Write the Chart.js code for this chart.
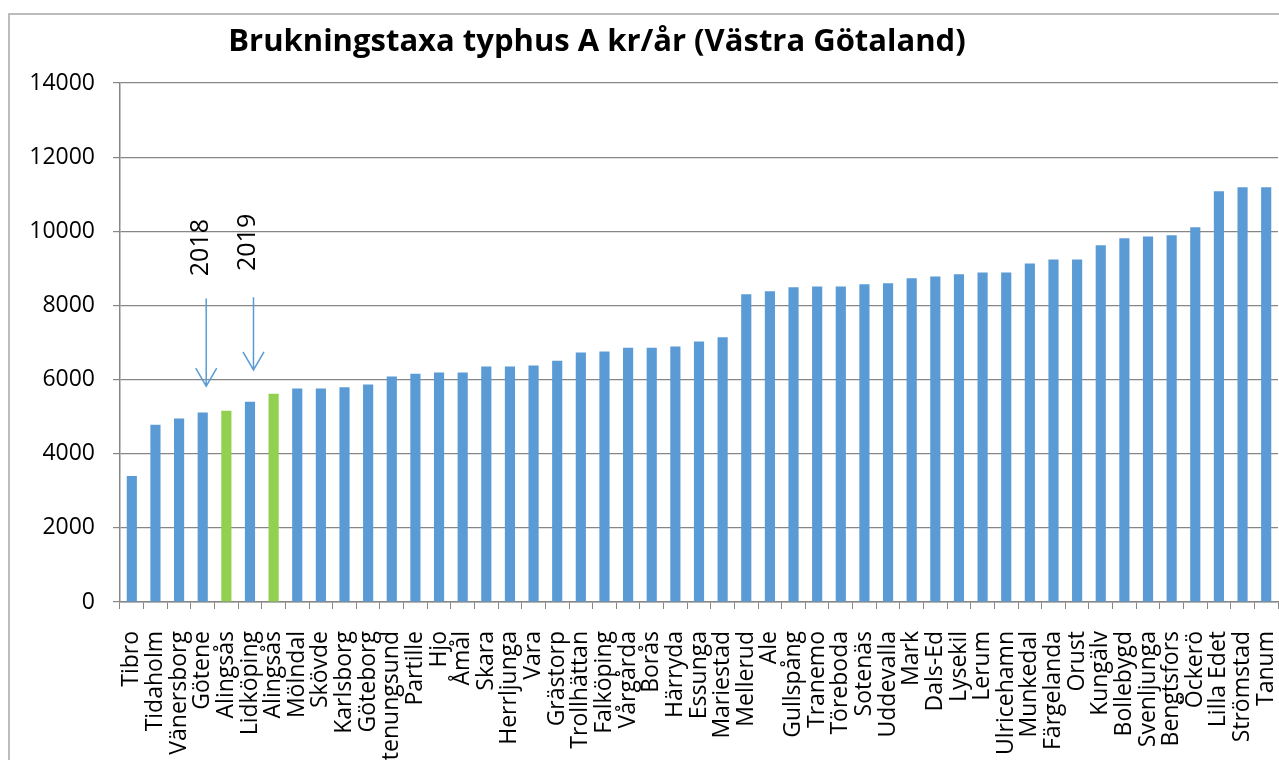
<!DOCTYPE html>
<html>
<head>
<meta charset="utf-8">
<script src="https://cdn.jsdelivr.net/npm/chart.js@4/dist/chart.umd.min.js"></script>
<style>
  html, body { margin: 0; padding: 0; background: #fff; }
  #wrap { width: 1279px; height: 760px; position: relative; }
</style>
</head>
<body>
<div id="wrap"><canvas id="chart"></canvas></div>
<script>
const kommuner = [
  'Tibro', 'Tidaholm', 'Vänersborg', 'Götene', 'Alingsås', 'Lidköping', 'Alingsås',
  'Mölndal', 'Skövde', 'Karlsborg', 'Göteborg', 'Stenungsund', 'Partille', 'Hjo',
  'Åmål', 'Skara', 'Herrljunga', 'Vara', 'Grästorp', 'Trollhättan', 'Falköping',
  'Vårgårda', 'Borås', 'Härryda', 'Essunga', 'Mariestad', 'Mellerud', 'Ale',
  'Gullspång', 'Tranemo', 'Töreboda', 'Sotenäs', 'Uddevalla', 'Mark', 'Dals-Ed',
  'Lysekil', 'Lerum', 'Ulricehamn', 'Munkedal', 'Färgelanda', 'Orust', 'Kungälv',
  'Bollebygd', 'Svenljunga', 'Bengtsfors', 'Öckerö', 'Lilla Edet', 'Strömstad', 'Tanum'
];

const taxa = [
  3400, 4780, 4950, 5110, 5160, 5400, 5620,
  5760, 5760, 5790, 5870, 6080, 6160, 6190,
  6190, 6350, 6350, 6380, 6510, 6730, 6760,
  6860, 6860, 6890, 7030, 7140, 8300, 8380,
  8490, 8510, 8510, 8570, 8600, 8730, 8780,
  8840, 8890, 8890, 9130, 9240, 9240, 9620,
  9810, 9860, 9890, 10110, 11080, 11190, 11190
];

// Alingsås 2018 and 2019 are highlighted
const highlighted = [4, 6];

const yTicks = [0, 2000, 4000, 6000, 8000, 10000, 12000, 14000];

// arrow notes: category index, text centre value, arrow top value, arrow tip value
const noteLabels = ['2018', '2019'];
const noteIndex = [3, 5];
const noteTextValue = [9560, 9700];
const noteArrowTop = [8190, 8220];
const noteArrowTip = [5820, 6260];

const blue = '#5b9bd5';
const green = '#92d050';
const axisGrey = '#868686';

const frame = {
  id: 'frame',
  beforeDraw(chart) {
    const ctx = chart.ctx;
    ctx.save();
    ctx.fillStyle = '#fff';
    ctx.fillRect(0, 0, chart.width, chart.height);
    ctx.strokeStyle = '#a6a6a6';
    ctx.lineWidth = 1.5;
    ctx.strokeRect(9, 14, 1400, 900);
    ctx.restore();
  },
  afterDraw(chart) {
    const ctx = chart.ctx;
    const x = chart.scales.x;
    const y = chart.scales.y;
    ctx.save();
    // title
    ctx.fillStyle = '#000';
    ctx.font = 'bold 31px "Open Sans"';
    ctx.textAlign = 'center';
    ctx.textBaseline = 'middle';
    ctx.fillText('Brukningstaxa typhus A kr/år (Västra Götaland)', 597, 42);

    // year notes with arrows
    ctx.strokeStyle = blue;
    ctx.lineWidth = 1.5;
    noteLabels.forEach((txt, i) => {
      const cx = x.getPixelForValue(noteIndex[i]);
      const ax = cx + 3.5;
      const top = y.getPixelForValue(noteArrowTop[i]);
      const tip = y.getPixelForValue(noteArrowTip[i]);
      ctx.beginPath();
      ctx.moveTo(ax, top);
      ctx.lineTo(ax, tip);
      ctx.moveTo(ax - 10.5, tip - 18);
      ctx.lineTo(ax, tip);
      ctx.lineTo(ax + 10.5, tip - 18);
      ctx.stroke();

      ctx.save();
      ctx.translate(cx - 2, y.getPixelForValue(noteTextValue[i]));
      ctx.rotate(-Math.PI / 2);
      ctx.fillStyle = '#000';
      ctx.font = '25px "Open Sans"';
      ctx.textAlign = 'center';
      ctx.textBaseline = 'middle';
      ctx.fillText(txt, 0, 0);
      ctx.restore();
    });
    ctx.restore();
  }
};

new Chart(document.getElementById('chart'), {
  type: 'bar',
  data: {
    labels: kommuner,
    datasets: [{
      data: taxa,
      backgroundColor: taxa.map((v, i) => highlighted.includes(i) ? green : blue),
      barPercentage: 0.43,
      categoryPercentage: 1,
    }],
  },
  options: {
    responsive: true,
    maintainAspectRatio: false,
    animation: false,
    layout: { padding: { top: 83, left: 0, right: 1, bottom: 0 } },
    plugins: {
      legend: { display: false },
      tooltip: { enabled: false },
      title: { display: false },
    },
    scales: {
      x: {
        offset: true,
        grid: {
          offset: true,
          drawOnChartArea: false,
          drawTicks: true,
          tickLength: 7,
          color: axisGrey,
        },
        border: { color: axisGrey, width: 1.5 },
        ticks: {
          autoSkip: false,
          minRotation: 90,
          maxRotation: 90,
          padding: 22,
          color: '#000',
          font: { family: '"Open Sans"', size: 23 },
        },
        afterFit: (scale) => {
          scale.height = 158;
          scale.paddingLeft = 0;
          scale.paddingRight = 0;
        },
      },
      y: {
        min: 0,
        max: 14000,
        afterBuildTicks: (scale) => {
          scale.ticks = yTicks.map((v) => ({ value: v }));
        },
        grid: {
          color: axisGrey,
          lineWidth: 1.2,
          drawTicks: true,
          tickLength: 7,
        },
        border: { color: axisGrey, width: 1.5 },
        ticks: {
          padding: 18,
          color: '#000',
          font: { family: '"Open Sans"', size: 23 },
          callback: (value) => String(value),
        },
        afterFit: (scale) => { scale.width = 120; },
      },
    },
  },
  plugins: [frame],
});
</script>
</body>
</html>
